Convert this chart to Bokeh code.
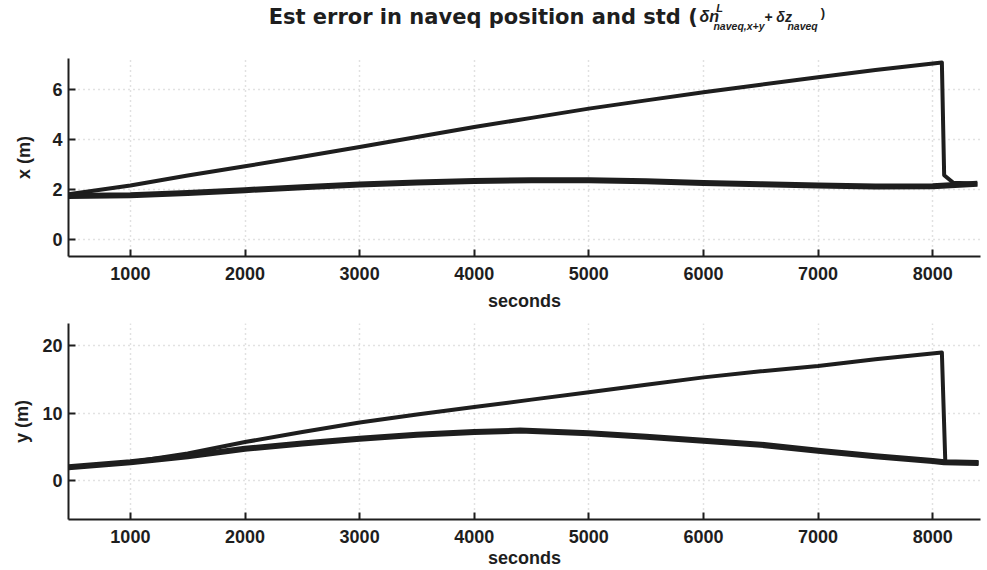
from bokeh.plotting import figure
from bokeh.layouts import column
from bokeh.models import Range1d, FixedTicker
from bokeh.core.properties import value
from bokeh.embed import file_html
from bokeh.resources import INLINE

# ---- data ----
x_ticks = [1000, 2000, 3000, 4000, 5000, 6000, 7000, 8000]
top_y_ticks = [0, 2, 4, 6]
bot_y_ticks = [0, 10, 20]

t_top_upper = [460, 1000, 1500, 2000, 2500, 3000, 3500, 4000, 4500, 5000, 5500,
               6000, 6500, 7000, 7500, 8080, 8100, 8180, 8390]
top_upper = [1.80, 2.15, 2.55, 2.92, 3.30, 3.69, 4.09, 4.49, 4.86, 5.23, 5.56,
             5.89, 6.19, 6.49, 6.78, 7.08, 2.56, 2.26, 2.22]

t_top_lower = [460, 1000, 1500, 2000, 2500, 3000, 3500, 4000, 4500, 5000, 5500,
               6000, 6500, 7000, 7500, 8000, 8390]
top_lower = [1.73, 1.76, 1.85, 1.96, 2.08, 2.19, 2.27, 2.33, 2.36, 2.36, 2.32,
             2.25, 2.20, 2.15, 2.11, 2.12, 2.22]

t_bot_upper = [460, 1000, 1500, 2000, 2500, 3000, 3500, 4000, 4500, 5000, 5500,
               6000, 6500, 7000, 7500, 8080, 8110, 8400]
bot_upper = [1.97, 2.7, 4.0, 5.7, 7.2, 8.6, 9.8, 10.9, 12.0, 13.1, 14.2,
             15.3, 16.2, 17.0, 18.0, 19.0, 2.7, 2.6]

t_bot_lower = [460, 1000, 1500, 2000, 2500, 3000, 3500, 4000, 4400, 5000, 5500,
               6000, 6500, 7000, 7500, 8000, 8100, 8400]
bot_lower = [1.97, 2.7, 3.6, 4.7, 5.5, 6.2, 6.8, 7.2, 7.4, 7.0, 6.5,
             5.9, 5.3, 4.4, 3.6, 2.9, 2.7, 2.6]

FONT = "Liberation Sans"
TFONT = "DejaVu Sans"
INK = "#1e1e1e"
W = 987

# ---- title strip ----
TH = 48
tp = figure(width=W, height=TH, x_range=Range1d(0, W), y_range=Range1d(TH, 0),
            output_backend="svg", toolbar_location=None, min_border=0)
tp.axis.visible = False
tp.grid.visible = False
tp.outline_line_color = None

def txt(x, y, s, size, style="normal", align="left", font=FONT):
    tp.text(x=[x], y=[y], text=[s], text_font=value(font), text_font_size=size,
            text_font_style=style, text_align=align, text_baseline="alphabetic",
            text_color=INK)

txt(681, 16, "Est error in naveq position and std (", "21px", "bold", "right", TFONT)
txt(683, 16, "δn", "16px", "bold italic")
txt(701, 7, "L", "11px", "bold italic")
txt(698, 25, "naveq,x+y", "10.5px", "bold italic")
txt(753, 16, "+ δz", "14px", "bold italic")
txt(778, 25, "naveq", "10.5px", "bold italic")
txt(814, 12, ")", "13px", "bold")


def make_fig(height, yr, yticks, ylabel, mb_top, mb_bottom, ylabel_standoff, xlabel_standoff):
    p = figure(width=W, height=height, x_range=Range1d(460, 8417), y_range=Range1d(*yr),
               output_backend="svg", toolbar_location=None,
               min_border_left=68, min_border_right=7, min_border_top=mb_top,
               min_border_bottom=mb_bottom)
    p.outline_line_color = None
    p.background_fill_color = "white"
    p.xaxis.ticker = FixedTicker(ticks=x_ticks)
    p.yaxis.ticker = FixedTicker(ticks=yticks)
    for ax in (p.xaxis[0], p.yaxis[0]):
        ax.axis_line_color = INK
        ax.axis_line_width = 2
        ax.major_tick_line_color = INK
        ax.major_tick_line_width = 2
        ax.major_tick_in = 7
        ax.major_tick_out = 0
        ax.minor_tick_line_color = None
        ax.major_label_text_font = FONT
        ax.major_label_text_font_size = "18px"
        ax.major_label_text_font_style = "bold"
        ax.major_label_text_color = INK
        ax.axis_label_text_font = FONT
        ax.axis_label_text_font_size = "18px"
        ax.axis_label_text_font_style = "bold"
        ax.axis_label_text_color = INK
    p.xaxis.major_label_standoff = 10
    p.yaxis.major_label_standoff = 6
    p.xaxis.axis_label = "seconds"
    p.xaxis.axis_label_standoff = xlabel_standoff
    p.yaxis.axis_label = ylabel
    p.yaxis.axis_label_standoff = ylabel_standoff
    p.grid.grid_line_color = "#c4c4c4"
    p.grid.grid_line_dash = "1 4"
    p.grid.grid_line_width = 1.5
    return p

p1 = make_fig(267, (-0.7, 7.24), top_y_ticks, "x (m)", 10, 59, 15, 8)
p1.line(t_top_upper, top_upper, line_color=INK, line_width=4, line_join="round")
p1.line(t_top_lower, top_lower, line_color=INK, line_width=6, line_join="round")

p2 = make_fig(255, (-5.8, 23.3), bot_y_ticks, "y (m)", 8, 51, 7, 2)
p2.line(t_bot_upper, bot_upper, line_color=INK, line_width=4, line_join="round")
p2.line(t_bot_lower, bot_lower, line_color=INK, line_width=6, line_join="round")

layout = column(tp, p1, p2, spacing=0)
open("out.html", "w").write(file_html(layout, INLINE))
